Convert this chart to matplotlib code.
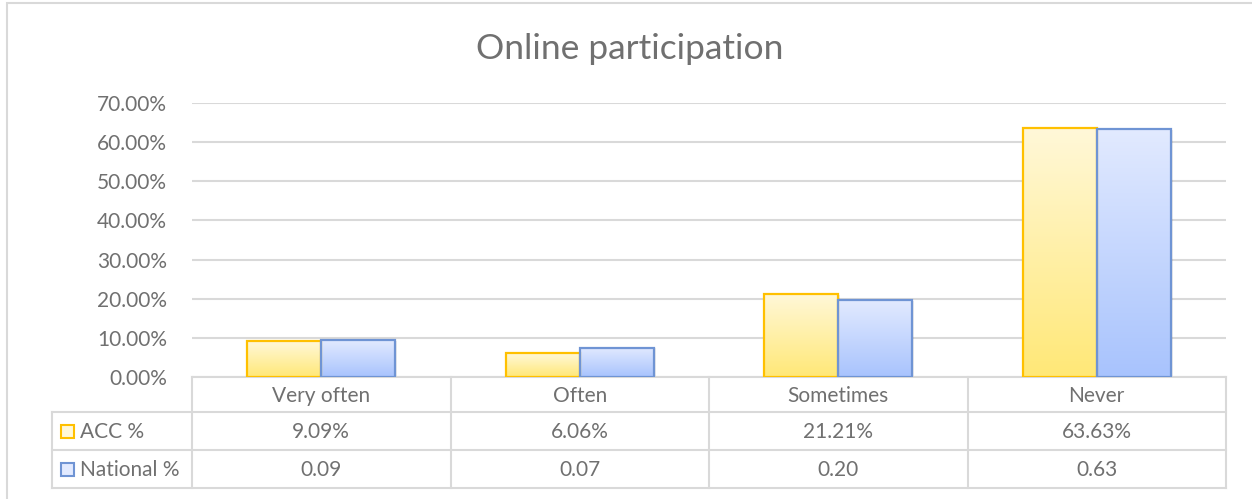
import numpy as np
import matplotlib
matplotlib.use("Agg")
import matplotlib.pyplot as plt
from matplotlib.colors import LinearSegmentedColormap
from matplotlib.patches import Rectangle

plt.rcParams['font.family'] = ['Lato', 'DejaVu Sans']

# data
categories = ['Very often', 'Often', 'Sometimes', 'Never']
acc = [0.0909, 0.0606, 0.2121, 0.6363]
national = [0.094, 0.075, 0.196, 0.633]
series_names = ['ACC %', 'National %']
acc_labels = ['9.09%', '6.06%', '21.21%', '63.63%']
national_labels = ['0.09', '0.07', '0.20', '0.63']
title = 'Online participation'

TEXT = '#707070'
GRID = '#d9d9d9'
FS = 15

# gradient colours (top, bottom) and edge colours
styles = [
    (('#fff8d9', '#ffe877'), '#ffc000'),
    (('#e2eaff', '#a8c3fd'), '#6f94d4'),
]

fig = plt.figure(figsize=(12.52, 4.99), dpi=100)
W, H = 1252, 499
ax = fig.add_axes([192 / W, (H - 377) / H, (1226 - 192) / W, (377 - 103) / H])

# chart border
fig.patches.append(Rectangle((7 / W, -0.01), 1.2, (H - 3) / H + 0.01,
                             transform=fig.transFigure, fill=False,
                             edgecolor=GRID, lw=1.5))

x = np.arange(len(categories))
bw = 0.286

def gradient_bars(xs, vals, cols, edge):
    cmap = LinearSegmentedColormap.from_list('g', [cols[1], cols[0]])
    grad = np.linspace(0, 1, 256).reshape(-1, 1)
    for xi, v in zip(xs, vals):
        # soft shadow
        ax.add_patch(Rectangle((xi - bw / 2 + 0.008, -0.002), bw, v,
                               facecolor='#000000', alpha=0.08, lw=0, zorder=2))
        r = Rectangle((xi - bw / 2, 0), bw, v, facecolor='none',
                      edgecolor=edge, lw=1.6, zorder=4)
        ax.add_patch(r)
        im = ax.imshow(grad, cmap=cmap, origin='lower', aspect='auto',
                       extent=(xi - bw / 2, xi + bw / 2, 0, v), zorder=3)
        im.set_clip_path(r)

gradient_bars(x - bw / 2, acc, *styles[0])
gradient_bars(x + bw / 2, national, *styles[1])

ax.set_xlim(-0.5, len(categories) - 0.5)
ax.set_ylim(0, 0.70)
ax.set_yticks(np.arange(0, 0.71, 0.10))
ax.set_yticklabels(['%.2f%%' % (t * 100) for t in np.arange(0, 0.71, 0.10)])
ax.yaxis.grid(True, color=GRID, lw=1.5)
ax.set_axisbelow(True)
ax.tick_params(axis='y', length=0, labelsize=FS, labelcolor=TEXT, pad=18)
ax.set_xticks([])
for s in ax.spines.values():
    s.set_visible(False)

fig.text(630 / W, (H - 49) / H, title, fontsize=25.5, color=TEXT,
         ha='center', va='center')

# data table below the plot
tr = ax.transAxes
h = 274.0
r1, r2, r3 = -35 / h, -73 / h, -111 / h
xl = (52 - 192) / 1034.0
lk = dict(color=GRID, lw=1.5, transform=tr, clip_on=False)
ax.plot([0, 1], [0, 0], **lk)
for yy in (r1, r2, r3):
    ax.plot([xl, 1], [yy, yy], **lk)
ax.plot([xl, xl], [r1, r3], **lk)
for i in range(len(categories) + 1):
    ax.plot([i / 4, i / 4], [0, r3], **lk)

tk = dict(transform=tr, ha='center', va='center', fontsize=FS, color=TEXT, clip_on=False)
rows = [(0, r1), (r1, r2), (r2, r3)]
dy = -1.5 / h
for i, c in enumerate(categories):
    cx = (i + 0.5) / 4
    ax.text(cx, sum(rows[0]) / 2 + dy, c, **tk)
    ax.text(cx, sum(rows[1]) / 2 + dy, acc_labels[i], **tk)
    ax.text(cx, sum(rows[2]) / 2 + dy, national_labels[i], **tk)

for (lo, hi), name, (cols, edge) in zip(rows[1:], series_names, styles):
    yc = (lo + hi) / 2
    kx0 = (61 - 192) / 1034.0
    kw = 13 / 1034.0
    kh = 13 / h
    ax.add_patch(Rectangle((kx0, yc - kh / 2), kw, kh, transform=tr, clip_on=False,
                           facecolor=cols[0], edgecolor=edge, lw=1.5))
    ax.text((80 - 192) / 1034.0, yc + dy, name, transform=tr, ha='left', va='center',
            fontsize=FS, color=TEXT, clip_on=False)

fig.savefig('out.png', dpi=100)
